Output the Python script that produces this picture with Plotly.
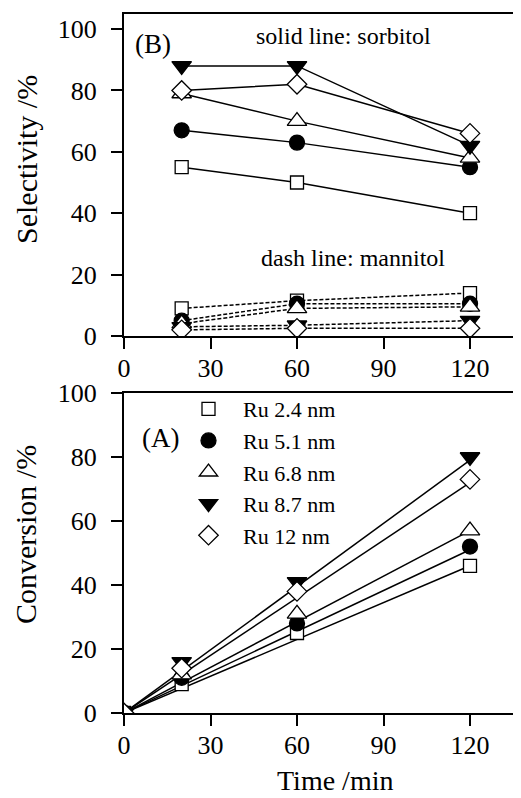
import plotly.graph_objects as go

# ---------------- data ----------------
names = ["Ru 2.4 nm", "Ru 5.1 nm", "Ru 6.8 nm", "Ru 8.7 nm", "Ru 12 nm"]
symbols = ["square", "circle", "triangle-up", "triangle-down", "diamond"]
fills = ["white", "black", "white", "black", "white"]
msizes = [13, 15, 17, 17, 15]

time_sel = [20, 60, 120]
sorb_24 = [55, 50, 40]
sorb_51 = [67, 63, 55]
sorb_68 = [79, 70, 58]
sorb_87 = [88, 88, 62]
sorb_12 = [80, 82, 66]

mann_24 = [9, 11.5, 14]
mann_51 = [5, 10.5, 10.5]
mann_68 = [4, 9, 9.5]
mann_87 = [3, 3.5, 5]
mann_12 = [2, 2.5, 2.5]

time_conv = [0, 20, 60, 120]
conv_24 = [0, 9, 25, 46]
conv_51 = [0, 11, 28, 52]
conv_68 = [0, 12, 31, 57]
conv_87 = [0, 16, 41, 80]
conv_12 = [0, 14, 38, 73]

fit_t = [0, 120]
fit_end = [46, 51, 57, 79, 72]

x_ticks = [0, 30, 60, 90, 120]
y_ticks = [0, 20, 40, 60, 80, 100]

sorb = [sorb_24, sorb_51, sorb_68, sorb_87, sorb_12]
mann = [mann_24, mann_51, mann_68, mann_87, mann_12]
conv = [conv_24, conv_51, conv_68, conv_87, conv_12]

FONT = "Liberation Serif, Times New Roman, serif"

fig = go.Figure()

for i in range(5):
    fig.add_trace(go.Scatter(x=time_sel, y=sorb[i], mode="lines",
                             line=dict(color="black", width=1.5),
                             xaxis="x", yaxis="y", showlegend=False, hoverinfo="skip"))
    fig.add_trace(go.Scatter(x=time_sel, y=mann[i], mode="lines",
                             line=dict(color="black", width=1.5, dash="4px,2px"),
                             xaxis="x", yaxis="y", showlegend=False, hoverinfo="skip"))
for i in range(5):
    fig.add_trace(go.Scatter(x=fit_t, y=[0, fit_end[i]], mode="lines",
                             line=dict(color="black", width=1.5),
                             xaxis="x2", yaxis="y2", showlegend=False, hoverinfo="skip"))

for i in range(5):
    mk = dict(symbol=symbols[i], size=msizes[i], color=fills[i],
              line=dict(color="black", width=1.3))
    fig.add_trace(go.Scatter(x=time_sel, y=sorb[i], mode="markers", marker=mk,
                             xaxis="x", yaxis="y", showlegend=False))
    fig.add_trace(go.Scatter(x=time_sel, y=mann[i], mode="markers", marker=mk,
                             xaxis="x", yaxis="y", showlegend=False))
for i in range(5):
    mk = dict(symbol=symbols[i], size=msizes[i], color=fills[i],
              line=dict(color="black", width=1.3))
    fig.add_trace(go.Scatter(x=time_conv, y=conv[i], mode="markers", marker=mk,
                             name=names[i],
                             xaxis="x2", yaxis="y2", showlegend=True))

axis_common = dict(showline=True, linewidth=2, linecolor="black", ticks="outside",
                   ticklen=11, tickwidth=2, tickcolor="black", showgrid=False,
                   zeroline=False, automargin=False,
                   tickfont=dict(family=FONT, size=26, color="black"))

W, H = 521, 798
OFF = 8            # page offset of the figure (body margin)
PL = 124           # page x of plot-area left edge
L = PL - OFF
PW = W - L         # plot-area width in px

def ydom(top_px, bot_px):
    return [1 - (bot_px - OFF) / H, 1 - (top_px - OFF) / H]

def pap(px, py):
    return (px - PL) / PW, 1 - (py - OFF) / H

xmax = (PL + PW - 124) / (86.5 / 30)

leg_x, leg_y = pap(174, 388)

fig.update_layout(
    width=W, height=H,
    margin=dict(l=L, r=0, t=0, b=0, autoexpand=False),
    paper_bgcolor="white", plot_bgcolor="white",
    xaxis=dict(domain=[0, 1], range=[0, xmax], tickvals=x_ticks, anchor="y",
               mirror=True, ticklabelstandoff=-3, **axis_common),
    yaxis=dict(domain=ydom(14, 336), range=[0, 104.9], tickvals=y_ticks, anchor="x",
               ticklabelstandoff=9, **axis_common),
    xaxis2=dict(domain=[0, 1], range=[0, xmax], tickvals=x_ticks, anchor="y2",
                mirror=True, ticklabelstandoff=-3, **axis_common),
    yaxis2=dict(domain=ydom(393, 713), range=[0, 100], tickvals=y_ticks, anchor="x2",
                ticklabelstandoff=9, **axis_common),
    legend=dict(x=leg_x, y=leg_y, xanchor="left", yanchor="top",
                bgcolor="rgba(0,0,0,0)", borderwidth=0, tracegroupgap=0,
                font=dict(family=FONT, size=22, color="black"), itemwidth=59),
    font=dict(family=FONT, color="black"),
)

ann = []
ax_, ay_ = pap(26, 160)
ann.append(dict(text="Selectivity /%", x=ax_, y=ay_, xref="paper", yref="paper",
                xanchor="center", yanchor="middle",
                textangle=-90, showarrow=False, font=dict(family=FONT, size=30)))
ax_, ay_ = pap(25, 535)
ann.append(dict(text="Conversion /%", x=ax_, y=ay_, xref="paper", yref="paper",
                xanchor="center", yanchor="middle",
                textangle=-90, showarrow=False, font=dict(family=FONT, size=30)))
ax_, ay_ = pap(335, 780)
ann.append(dict(text="Time /min", x=ax_, y=ay_, xref="paper", yref="paper",
                xanchor="center", yanchor="middle",
                showarrow=False, font=dict(family=FONT, size=28)))
ann.append(dict(text="(B)", x=10, y=95, xref="x", yref="y", showarrow=False,
                font=dict(family=FONT, size=27)))
ann.append(dict(text="solid line: sorbitol", x=76, y=97.6, xref="x", yref="y",
                showarrow=False, font=dict(family=FONT, size=24)))
ann.append(dict(text="dash line: mannitol", x=79.4, y=25.4, xref="x", yref="y",
                showarrow=False, font=dict(family=FONT, size=24)))
ann.append(dict(text="(A)", x=12.5, y=86, xref="x2", yref="y2", showarrow=False,
                font=dict(family=FONT, size=27)))
fig.update_layout(annotations=ann)

fig.write_html("out.html")
